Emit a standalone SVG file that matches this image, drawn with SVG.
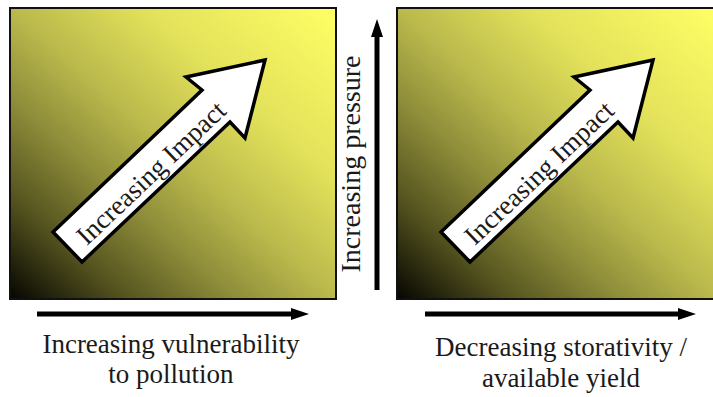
<svg xmlns="http://www.w3.org/2000/svg" width="713" height="397" viewBox="0 0 713 397">
<defs>
<linearGradient id="g" x1="0" y1="1" x2="1" y2="0">
<stop offset="0" stop-color="#050501"/>
<stop offset="0.18" stop-color="#55541f"/>
<stop offset="0.35" stop-color="#8f8e3a"/>
<stop offset="0.5" stop-color="#bab94c"/>
<stop offset="0.7" stop-color="#e2e15a"/>
<stop offset="1" stop-color="#ffff66"/>
</linearGradient>
<marker id="ah" viewBox="0 0 18 12" refX="1" refY="6" markerUnits="userSpaceOnUse" markerWidth="18" markerHeight="12" orient="auto">
<path d="M0,0 L18,6 L0,12 z" fill="#000"/>
</marker>
<style>
.panel{fill:url(#g);stroke:#111;stroke-width:2}
.big{fill:#fff;stroke:#000;stroke-width:3.5;stroke-linejoin:miter}
.t{font-family:"Liberation Serif","Times New Roman",serif;font-size:27px;fill:#1a1a1a;text-anchor:middle}
.ax{stroke:#000;stroke-width:5;fill:none;marker-end:url(#ah)}
</style>
</defs>
<g id="panel-left">
<rect class="panel" x="10" y="8" width="326" height="291"/>
<polygon class="big" points="265,60 186,77 202,90 53,232 82,262 230,122 245,138"/>
<text class="t" transform="translate(151,173) rotate(-43.5)" x="0" y="9">Increasing Impact</text>
</g>
<g id="panel-right">
<rect class="panel" x="397" y="8" width="320" height="291"/>
<polygon class="big" points="653,60 574,77 590,90 441,232 470,262 618,122 633,138"/>
<text class="t" transform="translate(539,173) rotate(-43.5)" x="0" y="9">Increasing Impact</text>
</g>
<g id="connectors">
<line class="ax" x1="37" y1="314" x2="292" y2="314"/>
<line class="ax" x1="425" y1="314" x2="679" y2="314"/>
<line class="ax" x1="377" y1="290" x2="377" y2="36"/>
</g>
<g id="labels">
<text class="t" x="171" y="353">Increasing vulnerability</text>
<text class="t" x="171" y="383">to pollution</text>
<text class="t" x="561" y="356">Decreasing storativity /</text>
<text class="t" x="561" y="387">available yield</text>
<text class="t" style="font-size:28px" transform="translate(360,164) rotate(-90)" x="0" y="0">Increasing pressure</text>
</g>
</svg>
